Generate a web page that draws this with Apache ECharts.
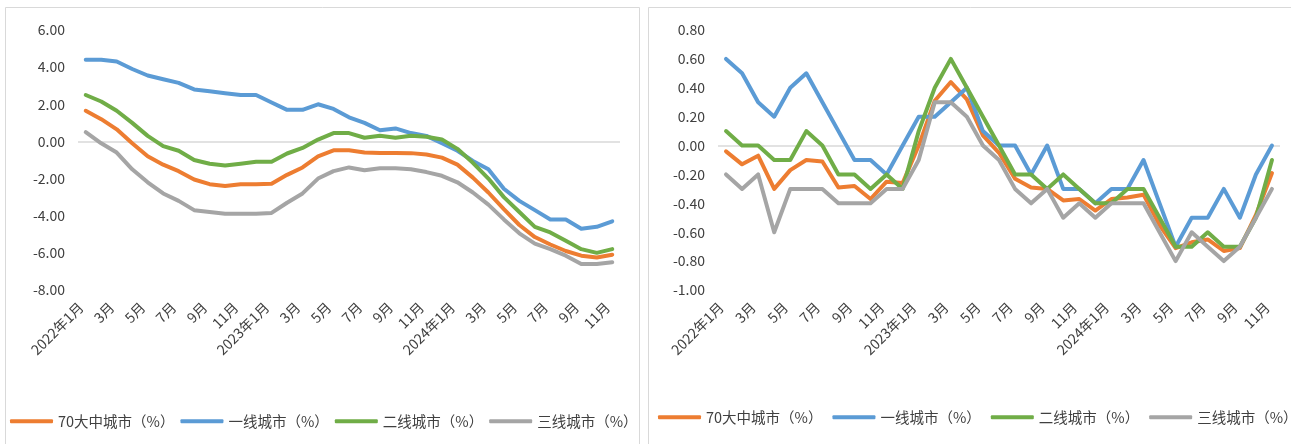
<!DOCTYPE html>
<html>
<head>
<meta charset="utf-8">
<script src="https://cdn.jsdelivr.net/npm/echarts@6/dist/echarts.min.js"></script>
<style>
html,body{margin:0;padding:0;background:#fff;}
#c{width:1291px;height:444px;}
</style>
</head>
<body>
<div id="c"></div>
<script>
// Tick labels (Jan 2022 - Nov 2024)
const months = ['2022年1月','2月','3月','4月','5月','6月','7月','8月','9月','10月','11月','12月',
  '2023年1月','2月','3月','4月','5月','6月','7月','8月','9月','10月','11月','12月',
  '2024年1月','2月','3月','4月','5月','6月','7月','8月','9月','10月','11月'];
const seriesNames = ['70大中城市（%）','一线城市（%）','二线城市（%）','三线城市（%）'];
const colors = ['#ED7D31','#5B9BD5','#70AD47','#A5A5A5'];

// Left panel: year-on-year (%)
const yoyCity70 = [1.65,1.2,0.65,-0.1,-0.8,-1.25,-1.6,-2.05,-2.3,-2.4,-2.3,-2.3,-2.28,-1.8,-1.4,-0.8,-0.48,-0.48,-0.6,-0.62,-0.62,-0.63,-0.7,-0.87,-1.25,-1.95,-2.75,-3.65,-4.5,-5.15,-5.55,-5.9,-6.15,-6.25,-6.1];
const yoyTier1  = [4.4,4.4,4.3,3.9,3.55,3.35,3.15,2.8,2.7,2.6,2.5,2.5,2.1,1.7,1.7,2.0,1.75,1.3,1.0,0.6,0.7,0.45,0.3,-0.1,-0.5,-1.05,-1.5,-2.55,-3.2,-3.7,-4.2,-4.2,-4.7,-4.6,-4.3];
const yoyTier2  = [2.5,2.15,1.65,1.0,0.3,-0.25,-0.5,-1.0,-1.2,-1.3,-1.2,-1.1,-1.1,-0.65,-0.35,0.1,0.45,0.45,0.2,0.3,0.2,0.3,0.25,0.1,-0.4,-1.15,-2.0,-3.0,-3.8,-4.6,-4.9,-5.35,-5.8,-6.0,-5.8];
const yoyTier3  = [0.5,-0.1,-0.6,-1.5,-2.2,-2.8,-3.2,-3.7,-3.8,-3.9,-3.9,-3.9,-3.85,-3.3,-2.8,-2.0,-1.6,-1.4,-1.55,-1.45,-1.45,-1.5,-1.65,-1.85,-2.2,-2.75,-3.4,-4.2,-4.95,-5.5,-5.8,-6.15,-6.6,-6.6,-6.5];

// Right panel: month-on-month (%)
const momCity70 = [-0.04,-0.13,-0.07,-0.30,-0.17,-0.10,-0.11,-0.29,-0.28,-0.37,-0.25,-0.26,0.00,0.31,0.44,0.32,0.07,-0.05,-0.23,-0.29,-0.30,-0.38,-0.37,-0.45,-0.37,-0.36,-0.34,-0.55,-0.71,-0.67,-0.65,-0.73,-0.71,-0.48,-0.19];
const momTier1  = [0.6,0.5,0.3,0.2,0.4,0.5,0.3,0.1,-0.1,-0.1,-0.2,0.0,0.2,0.2,0.3,0.4,0.1,0.0,0.0,-0.2,0.0,-0.3,-0.3,-0.4,-0.3,-0.3,-0.1,-0.4,-0.7,-0.5,-0.5,-0.3,-0.5,-0.2,0.0];
const momTier2  = [0.1,0.0,0.0,-0.1,-0.1,0.1,0.0,-0.2,-0.2,-0.3,-0.2,-0.3,0.1,0.4,0.6,0.4,0.2,0.0,-0.2,-0.2,-0.3,-0.2,-0.3,-0.4,-0.4,-0.3,-0.3,-0.5,-0.7,-0.7,-0.6,-0.7,-0.7,-0.5,-0.1];
const momTier3  = [-0.2,-0.3,-0.2,-0.6,-0.3,-0.3,-0.3,-0.4,-0.4,-0.4,-0.3,-0.3,-0.1,0.3,0.3,0.2,0.0,-0.1,-0.3,-0.4,-0.3,-0.5,-0.4,-0.5,-0.4,-0.4,-0.4,-0.6,-0.8,-0.6,-0.7,-0.8,-0.7,-0.5,-0.3];

const leftTicks = {min:-8, max:6, interval:2};
const rightTicks = {min:-1, max:0.8, interval:0.2};

const FONT = '"Noto Sans CJK SC", "Noto Sans", sans-serif';
const TXT = '#404040';

function mkX(gi){
  return {
    gridIndex: gi, type: 'category', data: months, boundaryGap: true,
    axisLine: {show: false}, axisTick: {show: false}, splitLine: {show: false},
    axisLabel: {interval: 1, rotate: 45, fontSize: 14, color: TXT, fontFamily: FONT,
      margin: 10, padding: [0, 7, 0, 0]}
  };
}
function mkY(gi, t){
  return {
    gridIndex: gi, type: 'value', min: t.min, max: t.max, interval: t.interval,
    axisLine: {show: false}, axisTick: {show: false}, splitLine: {show: false},
    axisLabel: {fontSize: 14, color: TXT, fontFamily: FONT, margin: 13,
      formatter: v => (Math.abs(v) < 1e-9 ? 0 : v).toFixed(2)}
  };
}
function mkSeries(gi, arr){
  return arr.map((d, k) => {
    const s = {
      name: seriesNames[k], type: 'line', xAxisIndex: gi, yAxisIndex: gi, data: d,
      symbol: 'none', smooth: false, color: colors[k],
      lineStyle: {width: 4, color: colors[k], cap: 'round', join: 'round'},
      z: 3 + k
    };
    if (k === 0) {
      s.markLine = {silent: true, symbol: 'none', label: {show: false}, z: 1,
        lineStyle: {color: '#d9d9d9', type: 'solid', width: 1.5},
        data: [{yAxis: 0}]};
    }
    return s;
  });
}

const chart = echarts.init(document.getElementById('c'), null, {renderer: 'canvas'});
chart.setOption({
  animation: false,
  backgroundColor: '#fff',
  graphic: [
    {type: 'rect', shape: {x: 5.5, y: 7.5, width: 634, height: 460}, style: {fill: 'none', stroke: '#d9d9d9', lineWidth: 1}, silent: true},
    {type: 'rect', shape: {x: 648.5, y: 7.5, width: 660, height: 460}, style: {fill: 'none', stroke: '#d9d9d9', lineWidth: 1}, silent: true}
  ],
  grid: [
    {left: 78, top: 30, width: 542, height: 260},
    {left: 718, top: 30, width: 562, height: 260}
  ],
  xAxis: [mkX(0), mkX(1)],
  yAxis: [mkY(0, leftTicks), mkY(1, rightTicks)],
  legend: [
    {left: 10, top: 414, padding: 0, width: 700, itemWidth: 43, itemHeight: 4, itemGap: 6, icon: 'roundRect',
     data: seriesNames, textStyle: {fontSize: 14.5, color: TXT, fontFamily: FONT}},
    {left: 658, top: 410, padding: 0, width: 700, itemWidth: 43, itemHeight: 4, itemGap: 10, icon: 'roundRect',
     data: seriesNames, textStyle: {fontSize: 14.5, color: TXT, fontFamily: FONT}}
  ],
  series: mkSeries(0, [yoyCity70, yoyTier1, yoyTier2, yoyTier3])
    .concat(mkSeries(1, [momCity70, momTier1, momTier2, momTier3]))
});
</script>
</body>
</html>
